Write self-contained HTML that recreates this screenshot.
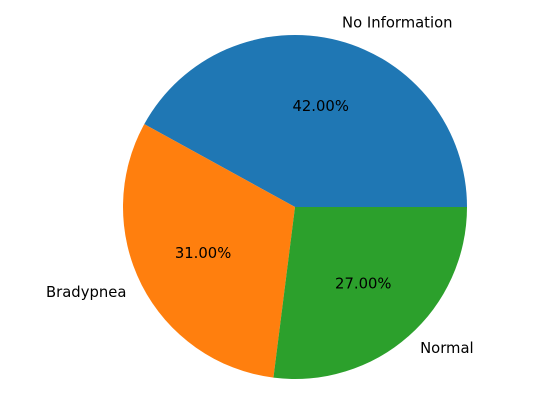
<!DOCTYPE html>
<html><head><meta charset="utf-8"><style>
html,body{margin:0;padding:0;background:#fff;}
svg{display:block;font-family:"DejaVu Sans","Liberation Sans",sans-serif;}
</style></head><body>
<svg id="chart" width="552" height="408" viewBox="0 0 552 408"></svg>
<script>
const categories = ["No Information", "Bradypnea", "Normal"];
const values = [42, 31, 27];
const pctLabels = ["42.00%", "31.00%", "27.00%"];
const colors = ["#1f77b4", "#ff7f0e", "#2ca02c"];

const svg = document.getElementById('chart');
const NS = "http://www.w3.org/2000/svg";
const cx = 295, cy = 207, r = 172;
const total = values.reduce((a,b)=>a+b,0);
function pt(deg, rad){ const a = deg*Math.PI/180; return [cx + rad*Math.cos(a), cy - rad*Math.sin(a)]; }
let start = 0;
values.forEach((v,i)=>{
  const sweep = v/total*360;
  const end = start + sweep;
  const [x1,y1] = pt(start,r), [x2,y2] = pt(end,r);
  const large = sweep > 180 ? 1 : 0;
  const p = document.createElementNS(NS,'path');
  p.setAttribute('d', `M${cx},${cy} L${x1},${y1} A${r},${r} 0 ${large} 0 ${x2},${y2} Z`);
  p.setAttribute('fill', colors[i]);
  
  
  svg.appendChild(p);
  const mid = start + sweep/2;
  const [lx,ly] = pt(mid, r*1.1);
  const t = document.createElementNS(NS,'text');
  t.setAttribute('x', lx); t.setAttribute('y', ly);
  t.setAttribute('font-size', '14.8');
  t.setAttribute('fill', '#000');
  t.setAttribute('dominant-baseline', 'middle');
  t.setAttribute('text-anchor', Math.cos(mid*Math.PI/180) >= 0 ? 'start' : 'end');
  t.textContent = categories[i];
  
  
  svg.appendChild(t);
  const [px,py] = pt(mid, r*0.6);
  const q = document.createElementNS(NS,'text');
  q.setAttribute('x', px); q.setAttribute('y', py);
  q.setAttribute('font-size', '14.8');
  q.setAttribute('fill', '#000');
  q.setAttribute('dominant-baseline', 'middle');
  q.setAttribute('text-anchor', 'middle');
  q.textContent = pctLabels[i];
  
  
  svg.appendChild(q);
  start = end;
});
</script>
</body></html>
